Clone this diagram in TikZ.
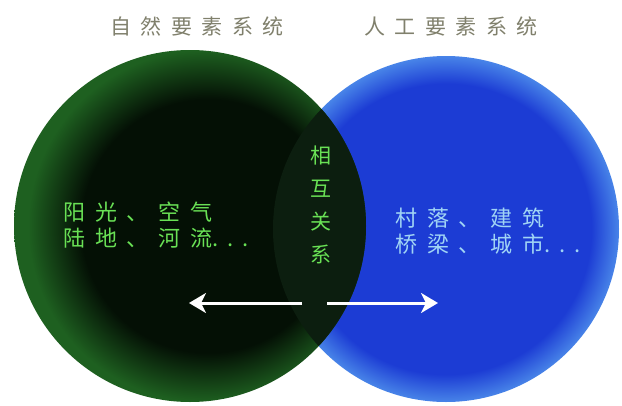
\documentclass[tikz,border=0pt]{standalone}
\usepackage{fontspec}
\usepackage{tikz}
\usetikzlibrary{arrows.meta, positioning}

\newfontfamily\cjk{Noto Sans CJK SC}
\newfontfamily\cjkwide[LetterSpace=45]{Noto Sans CJK SC}
\newfontfamily\cjkdots[LetterSpace=40]{Noto Sans CJK SC}

\definecolor{grdark}{RGB}{4,16,5}
\definecolor{gredge}{RGB}{30,96,32}
\definecolor{bldeep}{RGB}{28,60,212}
\definecolor{bledge}{RGB}{72,132,232}
\definecolor{lensgr}{RGB}{12,30,15}
\definecolor{titlegray}{RGB}{128,128,108}
\definecolor{txtgreen}{RGB}{105,225,85}
\definecolor{txtblue}{RGB}{160,212,245}

% the circle's edge sits at 25bp of the shading
\pgfdeclareradialshading{greenglow}{\pgfpoint{4bp}{0bp}}{color(0bp)=(grdark); color(18bp)=(grdark); color(25bp)=(gredge); color(50bp)=(gredge)}
\pgfdeclareradialshading{blueglow}{\pgfpoint{0bp}{0bp}}{color(0bp)=(bldeep); color(21bp)=(bldeep); color(25bp)=(bledge); color(50bp)=(bledge)}

\begin{document}
\begin{tikzpicture}[x=1pt, y=-1pt,
    title/.style={font=\cjkwide\fontsize{21}{24}\selectfont, text=titlegray, inner sep=0pt},
    items/.style={font=\cjkwide\fontsize{22}{26}\selectfont, align=left, anchor=west, inner sep=0pt},
    flow/.style={white, line width=3pt, -{Stealth[length=17pt, width=20pt, inset=5pt]}}]
   \useasboundingbox (0,0) rectangle (622,405);
   \fill[white] (0,0) rectangle (622,405);

   % the two systems
   \coordinate (art_c) at (446,229);
   \coordinate (nat_c) at (190,226);
   \shade[shading=blueglow] (art_c) circle (173);
   \shade[shading=greenglow] (nat_c) circle (176);
   \begin{scope}
      \clip (nat_c) circle (176);
      \fill[lensgr] (art_c) circle (173);
   \end{scope}

   \node[title] (nat_t) at (197,26) {自然要素系统};
   \node[title] (art_t) at (451,26) {人工要素系统};

   \node[items, text=txtgreen] (nat_i) at (63,225) {阳光、空气\\陆地、河流{\cjkdots...}};
   \node[items, text=txtblue] (art_i) at (395,231) {村落、建筑\\桥梁、城市{\cjkdots...}};

   \node[font=\cjk\fontsize{21}{33}\selectfont, text=txtgreen, align=center, inner sep=0pt]
      (link) at (321,205) {相\\互\\关\\系};

   % arrows out of the overlap
   \coordinate (l_tail) at (302,303);
   \coordinate (l_tip) at (189,303);
   \coordinate (r_tail) at (327,303);
   \coordinate (r_tip) at (438,303);
   \draw[flow] (l_tail) -- (l_tip);
   \draw[flow] (r_tail) -- (r_tip);
\end{tikzpicture}
\end{document}
